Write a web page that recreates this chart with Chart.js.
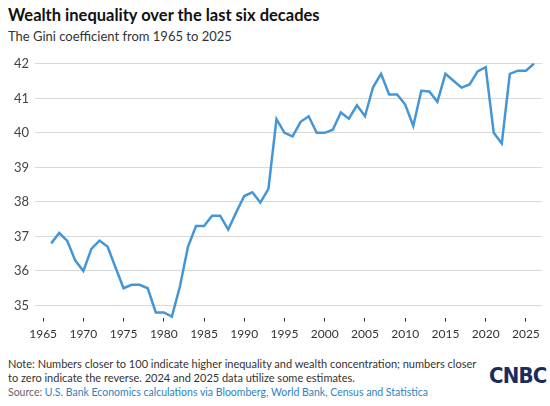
<!DOCTYPE html>
<html>
<head>
<meta charset="utf-8">
<script src="https://cdn.jsdelivr.net/npm/chart.js@4.4.0/dist/chart.umd.min.js"></script>
<style>
  html, body { margin: 0; padding: 0; background: #fff; }
  body { width: 550px; height: 406px; position: relative; overflow: hidden; font-family: Lato, "Open Sans", sans-serif; }
  #title { position: absolute; left: 8px; top: 5px; font-size: 16.5px; font-weight: 700; color: #111; white-space: nowrap; }
  #subtitle { position: absolute; left: 8px; top: 28px; font-size: 13px; color: #333; white-space: nowrap; }
  #chartBox { position: absolute; left: 0; top: 50px; width: 550px; height: 300px; }
  #note { position: absolute; left: 8px; top: 357px; font-size: 11px; line-height: 13.5px; color: #333; white-space: nowrap; }
  #source { position: absolute; left: 8px; top: 386px; font-size: 10.5px; color: #666; white-space: nowrap; }
  #source span { color: #2f7fc1; }
  #logo { position: absolute; left: 489px; top: 363px; font-family: "DejaVu Sans Condensed", "DejaVu Sans", sans-serif; font-stretch: condensed; font-weight: 700; font-size: 22px; letter-spacing: -0.8px; color: #1c2b5e; }
</style>
</head>
<body>
<div id="title">Wealth inequality over the last six decades</div>
<div id="subtitle">The Gini coefficient from 1965 to 2025</div>
<div id="chartBox"><canvas id="c"></canvas></div>
<div id="note">Note: Numbers closer to 100 indicate higher inequality and wealth concentration; numbers closer<br>to zero indicate the reverse. 2024 and 2025 data utilize some estimates.</div>
<div id="source">Source: <span>U.S. Bank Economics calculations via Bloomberg, World Bank, Census and Statistica</span></div>
<div id="logo">CNBC</div>
<script>
const years = [1966,1967,1968,1969,1970,1971,1972,1973,1974,1975,
  1976,1977,1978,1979,1980,1981,1982,1983,1984,1985,
  1986,1987,1988,1989,1990,1991,1992,1993,1994,1995,
  1996,1997,1998,1999,2000,2001,2002,2003,2004,2005,
  2006,2007,2008,2009,2010,2011,2012,2013,2014,2015,
  2016,2017,2018,2019,2020,2021,2022,2023,2024,2025,2026];
const gini = [36.8,37.1,36.87,36.3,36.0,36.64,36.88,36.71,36.1,35.5,
  35.6,35.6,35.5,34.8,34.8,34.68,35.55,36.7,37.3,37.3,
  37.6,37.6,37.2,37.7,38.17,38.28,37.98,38.38,40.4,40.0,
  39.9,40.32,40.48,40.0,40.0,40.09,40.59,40.41,40.8,40.48,
  41.32,41.71,41.11,41.11,40.82,40.2,41.22,41.2,40.9,41.71,
  41.51,41.31,41.4,41.78,41.9,40.0,39.69,41.71,41.8,41.8,42.0];
const xTicks = [1965,1970,1975,1980,1985,1990,1995,2000,2005,2010,2015,2020,2025];
const yTicks = [35,36,37,38,39,40,41,42];

const points = years.map((y, i) => ({ x: y, y: gini[i] }));

new Chart(document.getElementById('c'), {
  type: 'line',
  data: {
    datasets: [{
      data: points,
      borderColor: '#4596d6',
      borderWidth: 2.5,
      pointRadius: 0,
      tension: 0,
      clip: false
    }]
  },
  options: {
    responsive: true,
    maintainAspectRatio: false,
    animation: false,
    layout: { padding: { left: 8, right: 8, top: 12, bottom: 4 } },
    plugins: { legend: { display: false }, tooltip: { enabled: false } },
    scales: {
      x: {
        type: 'linear',
        min: 1964,
        max: 2027,
        afterBuildTicks: (axis) => { axis.ticks = xTicks.map(v => ({ value: v })); },
        grid: { display: true, drawOnChartArea: false, drawTicks: true, tickLength: 4, color: '#333', lineWidth: 1 },
        border: { display: false },
        ticks: { color: '#333', font: { family: 'Lato', size: 12 }, padding: 5, maxRotation: 0, autoSkip: false, callback: (v) => String(v) }
      },
      y: {
        min: 34.65,
        max: 42,
        afterBuildTicks: (axis) => { axis.ticks = yTicks.map(v => ({ value: v })); },
        grid: { color: '#d9d9d9', lineWidth: 1, drawTicks: false },
        border: { display: false },
        ticks: { color: '#444', font: { family: 'Lato', size: 13 }, padding: 6, callback: (v) => String(v) }
      }
    }
  }
});
</script>
</body>
</html>
